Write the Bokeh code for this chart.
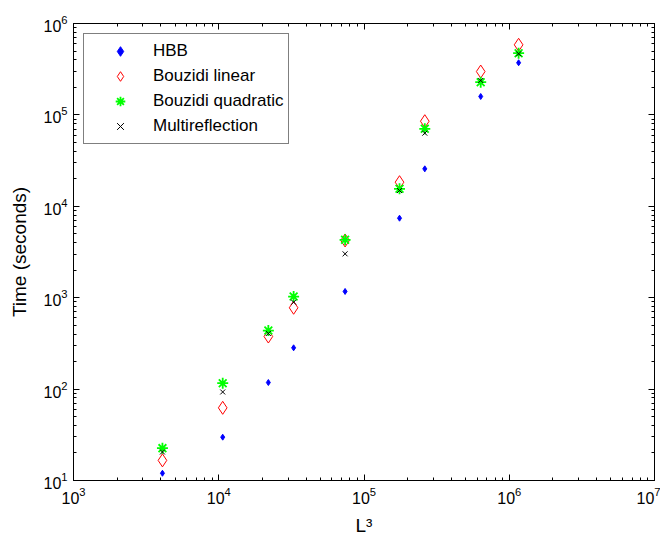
from bokeh.plotting import figure
from bokeh.models import LogAxis, FixedTicker, LogTickFormatter
from bokeh.embed import file_html
from bokeh.resources import INLINE

# ---- data ----
L3 = [4096, 10648, 21952, 32768, 74088, 175616, 262144, 636056, 1160000]
hbb = [12.0, 29.8, 118, 283, 1170, 7410, 25700, 159000, 372000]
bouzidi_linear = [16.6, 62.4, 376, 776, 4230, 18360, 85300, 298000, 585000]
bouzidi_quadratic = [22.6, 116, 437, 1030, 4300, 15540, 70400, 228000, 473000]
multireflection = [20.5, 93, 406, 893, 3020, 14880, 63100, 238000, 466000]

x_major = [1e3, 1e4, 1e5, 1e6, 1e7]
y_major = [1e1, 1e2, 1e3, 1e4, 1e5, 1e6]

FONT = "Liberation Sans"


def minors(majors):
    out = []
    for m in majors[:-1]:
        out += [m * k for k in range(2, 10)]
    return out


p = figure(width=660, height=540, x_axis_type="log", y_axis_type="log",
           x_range=(1e3, 1e7), y_range=(1e1, 1e6),
           output_backend="svg", toolbar_location=None,
           min_border_left=73, min_border_right=6,
           min_border_top=23, min_border_bottom=60)
p.background_fill_color = "white"
p.border_fill_color = "white"
p.outline_line_color = "black"
p.outline_line_width = 1
p.xgrid.visible = False
p.ygrid.visible = False

p.scatter(L3, hbb, marker="diamond", size=6, fill_color="#0000ff",
          line_color="#0000ff", legend_label="HBB")
p.scatter(L3, bouzidi_linear, marker="diamond", size=13, fill_color=None,
          line_color="#ff0000", line_width=1, legend_label="Bouzidi linear")
p.scatter(L3, bouzidi_quadratic, marker="asterisk", size=11,
          line_color="#00ff00", line_width=1.8, legend_label="Bouzidi quadratic")
p.scatter(L3, multireflection, marker="x", size=7, line_color="black",
          line_width=1, legend_label="Multireflection")


def style_axis(ax, majors, show_labels=True):
    ax.ticker = FixedTicker(ticks=majors, minor_ticks=minors(majors))
    ax.axis_line_color = "black"
    ax.major_tick_line_color = "black"
    ax.minor_tick_line_color = "black"
    ax.major_tick_in = 6
    ax.major_tick_out = 0
    ax.minor_tick_in = 3
    ax.minor_tick_out = 0
    ax.major_label_text_font = FONT
    if show_labels:
        ax.major_label_text_font_size = "16px"
        ax.major_label_text_color = "black"
        ax.major_label_standoff = 6
        ax.axis_label_text_font = FONT
        ax.axis_label_text_font_size = "19px"
        ax.axis_label_text_font_style = "normal"
        ax.axis_label_text_color = "black"
    else:
        ax.major_label_text_font_size = "1px"
        ax.major_label_text_alpha = 0
        ax.major_label_standoff = 0


style_axis(p.xaxis[0], x_major)
style_axis(p.yaxis[0], y_major)
p.xaxis[0].axis_label = "L³"
p.xaxis[0].axis_label_standoff = 8
p.yaxis[0].axis_label = "Time (seconds)"
p.yaxis[0].axis_label_standoff = 10

top_ax = LogAxis()
style_axis(top_ax, x_major, show_labels=False)
p.add_layout(top_ax, "above")
right_ax = LogAxis()
style_axis(right_ax, y_major, show_labels=False)
p.add_layout(right_ax, "right")

lg = p.legend[0]
lg.location = "top_left"
lg.margin = 10
lg.padding = 5
lg.spacing = 1
lg.glyph_width = 62
lg.glyph_height = 24
lg.label_height = 24
lg.label_standoff = 2
lg.label_text_font = FONT
lg.label_text_font_size = "17px"
lg.label_text_color = "black"
lg.border_line_color = "black"
lg.border_line_width = 1
lg.background_fill_color = "white"
lg.background_fill_alpha = 1.0

open("out.html", "w").write(file_html(p, INLINE))
